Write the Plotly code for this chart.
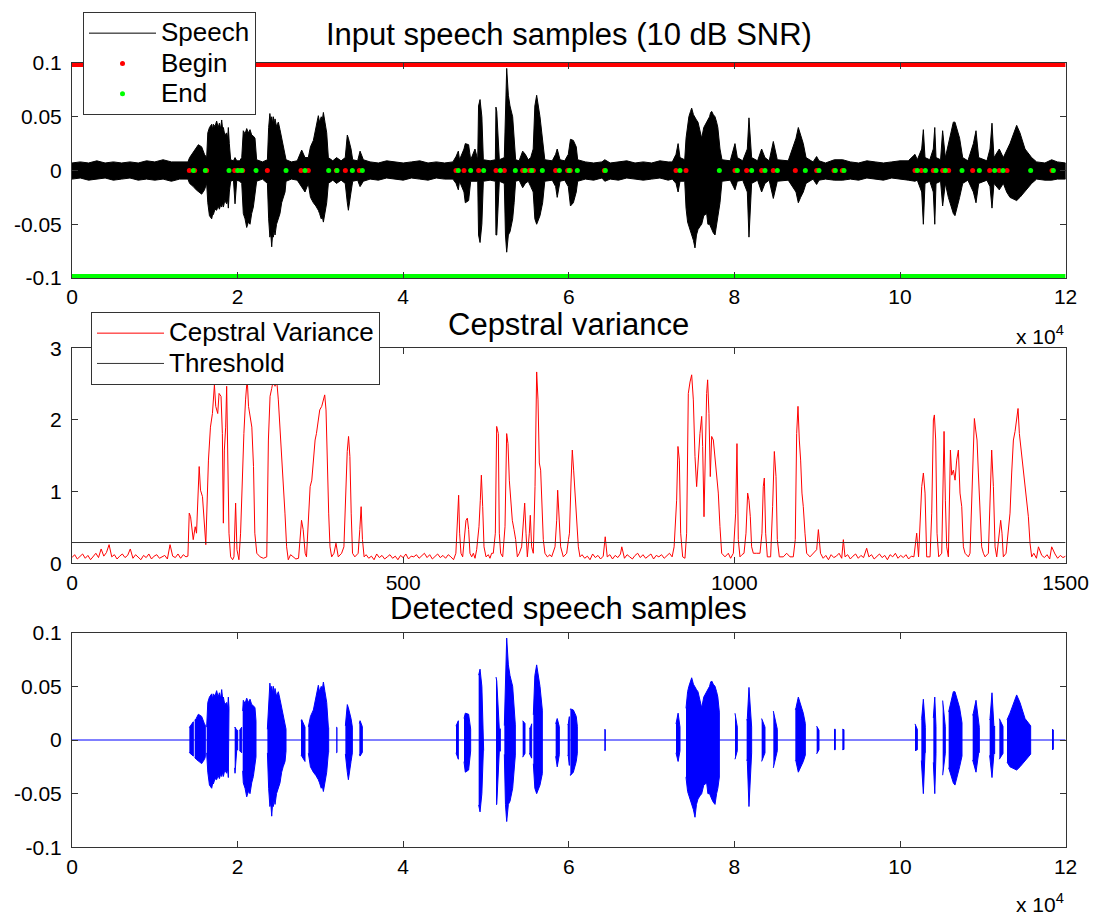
import numpy as np
import plotly.graph_objects as go

FONT = "Liberation Sans, Arial, Helvetica, sans-serif"
W, H = 1095, 917

# ---------------- Input speech: amplitude envelope ----------------
wave_x = [
    0, 1000, 2000, 3000, 4000, 5000, 6000, 7000, 8000, 9000, 10000, 11000, 12000, 13000,
    14000, 14200, 14650, 15000, 15260, 15660, 16000,
    16265, 16400, 16600, 16870, 17000, 17070, 17270, 17470, 17650, 17800,
    17950, 18080, 18200, 18280, 18450, 18680, 18800, 18880, 19000, 19160,
    19500, 19690, 19900, 20250,
    20500, 20690, 20900, 21100, 21300, 21500, 21700, 21900, 22100, 22300,
    23000,
    23600, 23750, 23900, 24000, 24120, 24220, 24320, 24420, 24520, 24700,
    24920, 25120, 25320, 25500, 25730, 25850,
    26500, 27200, 27740, 28140,
    28540, 28800, 29150, 29450, 29750, 29900, 30100, 30230, 30360, 30550, 30760, 30960,
    31500, 31950, 32500, 33000, 33250, 33380, 33700, 33900, 34500, 34790,
    35190, 36000, 37000, 38000, 39000, 40000, 41000, 42000, 43000, 44000, 45000,
    46000, 46380, 46660, 46800, 47340, 47500, 47900, 48150, 48670, 49000,
    49100, 49280, 49500, 49680, 50500, 51130, 51200, 51300, 51610, 52210,
    52350, 52500, 52700, 52900, 53220, 53400, 53580, 54000, 54430, 54750,
    55100, 55400, 55700, 55900, 56120, 56520, 56840, 57100, 58000, 58410,
    58600, 58940, 59500, 59940, 60200, 60550, 60900, 61070, 62000, 63000,
    64000, 64350, 65000, 66000, 67000, 68000, 69000, 70000, 71000, 72000,
    72500, 72950, 73200, 73430, 74000, 74160,
    74350, 74500, 74700, 74840, 75050, 75240, 75420, 75600, 75850, 76050,
    76300, 76650, 76800, 77000, 77130, 77260, 77450, 77660, 77850, 78000, 78260,
    78500, 79500, 80070,
    80350, 81000, 81560, 81760, 82080, 82800, 83290, 83690, 84200, 84700,
    85180, 86500, 87440, 87720, 88000, 88320, 88650, 89500, 89930, 90220,
    91000, 92070, 93080, 94000, 95000, 96000, 97000, 98000, 99000, 100000,
    101000, 101810, 102090, 102620, 102820, 103020, 103600, 104020, 104200, 104350,
    104900, 105150, 105480, 105840, 106440, 106640, 106840, 107200, 107570, 108200,
    108860, 109180, 109500, 110500, 110870, 111110, 111350, 111990, 112480, 112880,
    113280, 114090, 114490, 115100, 115900, 116500, 117500, 118320, 119000, 120000,
]
wave_hi = [
    .007, .008, .007, .009, .007, .008, .007, .008, .007, .009, .008, .010, .008, .008,
    .008, .012, .017, .020, .024, .022, .015,
    .012, .035, .040, .043, .038, .043, .041, .046, .040, .044,
    .039, .047, .038, .040, .033, .035, .030, .040, .025, .010,
    .009, .012, .009, .009,
    .012, .037, .034, .039, .035, .038, .033, .032, .030, .010,
    .008,
    .010, .040, .053, .046, .050, .044, .050, .043, .048, .041,
    .045, .038, .031, .022, .015, .010,
    .008, .009, .019, .012,
    .012, .022, .028, .040, .051, .045, .050, .047, .054, .045, .035, .012,
    .009, .012, .009, .012, .033, .030, .020, .010, .009, .018,
    .010, .008, .007, .009, .008, .007, .008, .009, .007, .008, .007,
    .008, .013, .018, .010, .020, .025, .024, .010, .020, .010,
    .060, .066, .050, .010, .009, .010, .059, .055, .010, .012,
    .060, .095, .070, .060, .050, .030, .010, .009, .018, .015,
    .010, .012, .020, .060, .070, .050, .025, .010, .009, .015,
    .020, .010, .009, .015, .029, .028, .022, .010, .008, .007,
    .008, .010, .007, .008, .009, .007, .008, .007, .009, .008,
    .008, .015, .025, .012, .010, .030,
    .045, .050, .055, .058, .052, .050, .047, .045, .038, .030,
    .040, .045, .048, .050, .054, .055, .052, .050, .045, .040, .020,
    .010, .009, .025,
    .012, .009, .020, .049, .012, .009, .020, .012, .009, .027,
    .010, .009, .030, .040, .033, .025, .012, .008, .013, .009,
    .007, .010, .010, .008, .007, .009, .008, .007, .008, .009,
    .009, .015, .010, .020, .038, .012, .010, .020, .040, .012,
    .010, .037, .012, .025, .045, .045, .040, .030, .012, .009,
    .025, .037, .012, .009, .020, .044, .012, .020, .012, .018,
    .025, .042, .035, .020, .012, .008, .007, .010, .008, .007,
]
wave_lo = [
    -.008, -.007, -.009, -.008, -.007, -.009, -.008, -.007, -.009, -.008, -.009, -.008, -.010, -.008,
    -.008, -.012, -.015, -.018, -.020, -.022, -.018,
    -.012, -.030, -.042, -.045, -.040, -.041, -.036, -.037, -.033, -.036,
    -.032, -.034, -.030, -.034, -.028, -.031, -.027, -.035, -.020, -.010,
    -.009, -.031, -.009, -.010,
    -.012, -.040, -.045, -.053, -.048, -.050, -.040, -.034, -.025, -.010,
    -.008,
    -.012, -.045, -.062, -.058, -.071, -.060, -.062, -.055, -.060, -.050,
    -.045, -.040, -.030, -.025, -.020, -.010,
    -.008, -.009, -.015, -.020,
    -.012, -.025, -.030, -.033, -.037, -.040, -.045, -.043, -.048, -.038, -.030, -.012,
    -.009, -.012, -.009, -.012, -.030, -.037, -.020, -.010, -.009, -.015,
    -.010, -.008, -.009, -.007, -.008, -.009, -.007, -.008, -.009, -.007, -.008,
    -.008, -.012, -.018, -.010, -.020, -.030, -.028, -.010, -.010, -.010,
    -.060, -.067, -.050, -.010, -.009, -.010, -.060, -.060, -.010, -.012,
    -.060, -.076, -.060, -.057, -.045, -.030, -.010, -.009, -.016, -.012,
    -.010, -.015, -.020, -.045, -.050, -.042, -.030, -.010, -.009, -.015,
    -.025, -.010, -.009, -.015, -.033, -.030, -.020, -.010, -.008, -.009,
    -.007, -.010, -.008, -.009, -.007, -.008, -.009, -.008, -.007, -.009,
    -.008, -.012, -.020, -.010, -.010, -.035,
    -.048, -.050, -.055, -.060, -.065, -.072, -.060, -.055, -.052, -.050,
    -.042, -.040, -.050, -.050, -.052, -.055, -.058, -.060, -.050, -.045, -.030,
    -.010, -.009, -.018,
    -.010, -.009, -.020, -.062, -.012, -.009, -.020, -.012, -.009, -.026,
    -.010, -.009, -.020, -.030, -.025, -.020, -.012, -.008, -.013, -.009,
    -.008, -.009, -.009, -.008, -.009, -.007, -.008, -.009, -.007, -.008,
    -.009, -.010, -.009, -.020, -.050, -.012, -.010, -.020, -.050, -.012,
    -.010, -.033, -.012, -.025, -.040, -.042, -.035, -.025, -.012, -.009,
    -.020, -.030, -.012, -.009, -.015, -.035, -.012, -.018, -.012, -.020,
    -.025, -.028, -.025, -.020, -.012, -.008, -.009, -.009, -.008, -.008,
]
assert len(wave_x) == len(wave_hi) == len(wave_lo)
assert all(a < b for a, b in zip(wave_x, wave_x[1:]))

# ---------------- Detected speech segments (sample index) ----------------
seg_begin = [14172, 14816, 16265, 19647, 20211, 20614, 23593, 27660, 28545, 31926, 33014, 34704,
             46376, 47343, 49114, 51208, 52214, 54428, 55234, 55717, 58414, 59864, 60186, 64292,
             72948, 74156, 80071, 81480, 83291, 84701, 87358, 89934, 92028, 93034,
             101811, 102576, 104025, 105153, 105877, 108776, 110829, 111997, 112923, 118358]
seg_end = [14655, 16104, 18963, 20010, 20493, 22224, 25848, 28142, 31000, 32006, 33860, 35067,
           46658, 48148, 49718, 51732, 53543, 54710, 55516, 56804, 58857, 60066, 61031, 64413,
           73431, 78182, 80353, 82083, 83694, 85184, 88566, 90216, 92189, 93236,
           102093, 103059, 104347, 105475, 107488, 109581, 111433, 112440, 115782, 118519]

n_samples = 120000
begin_level = 0.1
end_level = -0.1

# ---------------- Cepstral variance (frame index, value) ----------------
cep_frame = [
    0, 4, 8, 12, 16, 20, 24, 28, 32, 36,
    40, 44, 48, 52, 56, 60, 64, 68, 72, 76,
    80, 84, 88, 92, 96, 100, 104, 108, 112, 116,
    120, 124, 128, 132, 136, 140, 144, 148, 152, 156,
    160, 164, 168, 172, 175,
    177, 179, 183, 186, 188, 192, 194, 197, 199, 202,
    206, 209, 212, 215, 217, 220, 222, 225, 227, 228.5,
    230, 232, 233.5, 235, 237, 239.5, 242.5, 244.5, 247, 249,
    252, 254.5, 257, 259.5, 262, 264.5, 266.5, 269, 271.5, 274,
    276, 279, 284, 289, 294, 296.5, 299, 301.5, 304, 306.5,
    309, 311.5, 314, 316.5, 319, 321.5, 324, 326.5, 330, 334,
    338, 342, 346.5, 349, 352, 354, 357, 359.5, 362, 364,
    367, 369, 372, 374, 377, 379, 381.5, 383.5, 385.5, 387.5,
    389.5, 392, 395.5, 398.5, 402, 407, 410.5, 413, 415.5, 417.5,
    419.5, 421.5, 423.5, 427, 432, 434.5, 436.5, 438.5, 441,
    444, 448, 452, 456, 460, 464, 468, 472, 476, 480,
    484, 488, 492, 496, 500, 504, 508, 512, 516, 520,
    524, 528, 532, 536, 540, 544, 548, 552, 556, 560,
    564, 568, 572, 576, 579.5,
    582, 583.7, 585.2, 587.2, 589.8, 592.3, 594.8, 596.8, 598.8, 600.8,
    603.4, 605.9, 608.4, 610.9, 614.4, 616.4, 618, 620, 622, 625,
    628.5, 631, 633.5, 636, 639.1, 641.1, 643.6, 645.1, 647.1, 650.2,
    653.7, 656.2, 658.2, 660.2, 662.7, 664.7, 667.3, 669.8, 672.3, 675.3,
    678.8, 681.3, 683.4, 685.4, 687.4, 690.4, 691.9, 693.9, 696.4, 699,
    701.5, 703.5, 705.5, 707.5, 709.5, 711.5, 714, 717.6, 721.6, 724.1,
    729.2, 731.7, 733.2, 735.2, 737.7, 741.7, 746.8, 749.5, 751, 753.3,
    755.3, 757.3, 759.3, 761.9, 764.4, 766.9,
    770, 774, 778, 782, 786, 790, 794, 798, 802, 805,
    808, 812, 816, 820, 824, 828, 830, 834, 838, 842,
    846, 850, 854, 858, 862, 866, 870, 874, 878, 882,
    886, 890, 894, 898, 902, 906, 909,
    912.8, 914.8, 916.9, 918.9, 921.9, 925.4, 927.9, 930.4, 933, 935.5,
    938, 940.5, 943, 945.5, 948, 950.6, 952.1, 954.1, 956.1, 958.1,
    959.6, 961.6, 963.6, 965.7, 968.2, 970.7, 973.2, 975.7, 978.2, 980.8,
    985.8, 990.8, 994.3, 998.4, 1001.9, 1003.9, 1005.9, 1008.4, 1011.4, 1014.5,
    1017.5, 1020, 1022, 1024, 1026, 1028.6, 1033.6, 1038.6, 1041.6, 1043.6,
    1045.2, 1047.2, 1049.7, 1054.7, 1057.7, 1060.3, 1062.8, 1064.8, 1067.8, 1073.8,
    1078.9, 1083.9, 1088.9, 1091.9, 1094, 1096, 1098, 1100, 1102, 1104,
    1106.6, 1109.1, 1114.1, 1119.1, 1124.2, 1126.8,
    1130, 1134, 1138, 1142, 1146, 1150, 1154, 1158, 1162, 1164.5,
    1167, 1171, 1175, 1179, 1183, 1187, 1191, 1195, 1199.7, 1203,
    1207, 1211, 1215, 1219, 1223, 1227, 1231, 1235, 1239, 1243,
    1247, 1251, 1255, 1259, 1263, 1267, 1271, 1275.2, 1278,
    1282.8, 1285.3, 1287.8, 1290.3, 1295.4, 1297.9, 1300.4, 1301.9, 1303.9, 1305.9,
    1308.4, 1313, 1314.5, 1316.5, 1318.5, 1320.5, 1323, 1324.5, 1326.1, 1328.1,
    1330.6, 1333.1, 1335.6, 1338.1, 1340.6, 1343.2, 1345.7, 1348.2, 1353.2, 1355.7,
    1359.8, 1362.3, 1364.3, 1366.3, 1368.3, 1370.8, 1373.3, 1375.9, 1378.4, 1383.4,
    1385.9, 1388.4, 1391, 1393.5, 1396, 1400, 1402, 1404, 1406, 1410.1,
    1413.6, 1416.1, 1418.6, 1421.2, 1423.7, 1426.2, 1428.2, 1430.2, 1432.2, 1434.2,
    1436.2, 1438.8, 1441.3, 1443.8, 1446.3, 1448.8,
    1452, 1456, 1459, 1464, 1468, 1472, 1476, 1479, 1484, 1488,
    1492, 1496, 1500,
]
cep_value = [
    .08, .12, .06, .10, .13, .07, .11, .05, .09, .14,
    .08, .20, .10, .15, .26, .09, .12, .06, .10, .13,
    .08, .11, .20, .07, .12, .09, .05, .11, .08, .13,
    .06, .10, .12, .07, .09, .11, .06, .26, .10, .08,
    .13, .07, .12, .09, .10,
    .70, .65, .33, .51, .42, 1.35, 1.02, .93, .70, .26,
    1.44, 1.90, 2.09, 2.49, 2.19, 2.09, 2.37, 2.33, 1.81, .56,
    1.58, 1.90, 2.47, 1.58, .42, .09, .05, .09, .84, .19,
    .05, .42, 1.26, 1.81, 2.28, 2.58, 2.19, 2.05, 1.90, 1.35,
    .42, .14, .09, .07, .09, 1.72, 2.33, 2.44, 2.56, 2.47,
    2.56, 2.28, 1.90, 1.58, 1.07, .70, .23, .05, .12, .09,
    .06, .07, .60, .47, .14, .09, .60, 1.07, 1.16, 1.44,
    1.72, 1.81, 2.00, 2.14, 2.19, 2.28, 2.35, 2.14, 1.35, .70,
    .23, .09, .14, .28, .09, .14, .23, 1.07, 1.56, 1.77,
    1.49, .70, .14, .09, .14, .47, .79, .33, .09,
    .12, .07, .10, .05, .13, .08, .11, .06, .09, .12,
    .07, .10, .05, .11, .08, .13, .06, .10, .09, .12,
    .07, .11, .14, .08, .12, .06, .10, .13, .08, .11,
    .07, .12, .09, .05, .14,
    .70, .95, .42, .14, .09, .33, .60, .63, .47, .14,
    .09, .14, .07, .19, .51, .88, 1.23, .79, .23, .09,
    .12, .07, .14, .14, .42, 1.91, 1.81, .42, .14, .09,
    .51, 1.81, 1.67, 1.16, .88, .60, .47, .33, .09, .14,
    .23, .60, .84, .42, .09, .42, .67, .23, .14, 1.07,
    2.67, 2.28, 1.40, 1.30, .70, .33, .14, .09, .12, .09,
    .23, .60, 1.02, .65, .23, .09, .14, .33, .42, 1.12,
    1.58, 1.30, .98, .51, .23, .09,
    .12, .07, .10, .05, .13, .08, .11, .06, .10, .37,
    .09, .12, .06, .11, .08, .13, .23, .07, .12, .09,
    .06, .11, .14, .08, .12, .07, .10, .13, .06, .11,
    .09, .12, .07, .10, .14, .09, .23,
    .88, 1.63, 1.44, .42, .09, .07, .42, 2.37, 2.53, 2.63,
    2.28, 1.49, 1.07, 1.49, 1.81, 2.05, 1.63, .65, 1.58, 2.37,
    2.56, 2.09, 1.21, 1.77, 1.72, 1.44, 1.26, .98, .51, .14,
    .09, .14, .07, .14, .70, 1.67, .33, .09, .12, .14,
    .42, .98, .88, .65, .23, .14, .14, .14, .42, 1.07,
    1.19, .42, .09, .09, .79, 1.56, 1.21, .33, .09, .09,
    .14, .09, .09, .33, 1.81, 2.19, 1.72, 1.44, .98, .79,
    .42, .14, .09, .14, .19, .47,
    .14, .07, .11, .05, .12, .08, .10, .14, .07, .33,
    .09, .12, .06, .10, .13, .07, .11, .08, .21, .09,
    .12, .06, .10, .13, .08, .11, .05, .12, .09, .14,
    .07, .11, .08, .12, .06, .10, .09, .42, .09,
    1.07, 1.26, .98, .09, .09, .70, 2.00, 2.07, 1.72, .42,
    .09, .14, .88, 1.84, .88, .23, .09, .65, 1.58, 1.23,
    1.30, 1.16, 1.44, 1.58, .98, .79, .23, .14, .09, .14,
    1.35, 2.02, 1.86, 1.72, 1.26, .70, .23, .14, .09, .14,
    .79, 1.58, 1.07, .23, .09, .42, .60, .42, .09, .14,
    .42, .70, 1.26, 1.72, 1.84, 2.00, 2.16, 1.81, 1.63, 1.49,
    1.26, 1.07, .84, .65, .28, .09,
    .14, .07, .23, .11, .08, .12, .06, .23, .13, .07,
    .11, .08, .10,
]
assert len(cep_frame) == len(cep_value)
n_frames = 1500
threshold = 0.29

# ---------------- tick labels ----------------
sample_ticks = [0, 20000, 40000, 60000, 80000, 100000, 120000]
sample_ticktext = ["0", "2", "4", "6", "8", "10", "12"]
amp_ticks = [-0.1, -0.05, 0, 0.05, 0.1]
amp_ticktext = ["-0.1", "-0.05", "0", "0.05", "0.1"]
frame_ticks = [0, 500, 1000, 1500]
cep_ticks = [0, 1, 2, 3]

titles = ["Input speech samples (10 dB SNR)", "Cepstral variance", "Detected speech samples"]

# ---------------- geometry helpers (pixel -> paper) ----------------
def pxx(p):
    return p / W

def pxy(p):
    return 1 - p / H

XD = [pxx(72), pxx(1065.6)]
Y1 = [pxy(278), pxy(63)]
Y2 = [pxy(563.3), pxy(348.3)]
Y3 = [pxy(847.3), pxy(632.7)]
XC = (XD[0] + XD[1]) / 2

def leg_name(s):
    return '<span style="font-size:26px">' + s + '</span>'

fig = go.Figure()

wx = np.array(wave_x, dtype=float)
whi = np.array(wave_hi, dtype=float)
wlo = np.array(wave_lo, dtype=float)

# --- top: input speech (envelope polygon) ---
fig.add_trace(go.Scatter(
    x=np.concatenate([wx, wx[::-1]]), y=np.concatenate([whi, wlo[::-1]]),
    mode="lines", fill="toself", fillcolor="black",
    line=dict(color="black", width=1), showlegend=False, hoverinfo="skip",
    xaxis="x", yaxis="y"))
fig.add_trace(go.Scatter(x=[None], y=[None], mode="lines", name=leg_name("Speech"),
                         line=dict(color="black", width=1), xaxis="x", yaxis="y", legend="legend"))
fig.add_trace(go.Scatter(x=[0, n_samples], y=[begin_level, begin_level], mode="lines",
                         line=dict(color="#ff0000", width=8), showlegend=False, hoverinfo="skip",
                         xaxis="x", yaxis="y"))
fig.add_trace(go.Scatter(x=[0, n_samples], y=[end_level, end_level], mode="lines",
                         line=dict(color="#00ff00", width=8), showlegend=False, hoverinfo="skip",
                         xaxis="x", yaxis="y"))
fig.add_trace(go.Scatter(x=seg_begin, y=[0] * len(seg_begin), mode="markers", name=leg_name("Begin"),
                         marker=dict(color="#ff0000", size=5), cliponaxis=False,
                         xaxis="x", yaxis="y", legend="legend"))
fig.add_trace(go.Scatter(x=seg_end, y=[0] * len(seg_end), mode="markers", name=leg_name("End"),
                         marker=dict(color="#00ff00", size=5), cliponaxis=False,
                         xaxis="x", yaxis="y", legend="legend"))

# --- middle: cepstral variance ---
fig.add_trace(go.Scatter(x=cep_frame, y=cep_value, mode="lines", name=leg_name("Cepstral Variance"),
                         line=dict(color="#ff0000", width=1), xaxis="x2", yaxis="y2", legend="legend2"))
fig.add_trace(go.Scatter(x=[0, n_frames], y=[threshold, threshold], mode="lines",
                         name=leg_name("Threshold"),
                         line=dict(color="#333333", width=1), xaxis="x2", yaxis="y2", legend="legend2"))

# --- bottom: detected speech (envelope restricted to the detected segments) ---
dx, dy = [], []
for b, e in zip(seg_begin, seg_end):
    inner = wx[(wx > b) & (wx < e)]
    xs = np.concatenate([[b], inner, [e]])
    hi = np.interp(xs, wx, whi)
    lo = np.interp(xs, wx, wlo)
    dx += list(xs) + list(xs[::-1]) + [None]
    dy += list(hi) + list(lo[::-1]) + [None]
fig.add_trace(go.Scatter(x=[0, n_samples], y=[0, 0], mode="lines",
                         line=dict(color="#0000ff", width=1), showlegend=False,
                         xaxis="x3", yaxis="y3"))
fig.add_trace(go.Scatter(x=dx, y=dy, mode="lines", fill="toself", fillcolor="#0000ff",
                         line=dict(color="#0000ff", width=1), showlegend=False, hoverinfo="skip",
                         xaxis="x3", yaxis="y3"))

axc = dict(showline=True, linecolor="#333333", linewidth=1, mirror="ticks", ticks="inside",
           ticklen=6, tickcolor="#333333", tickwidth=1, showgrid=False, zeroline=False,
           tickfont=dict(family=FONT, size=21, color="black"), fixedrange=True, automargin=False)

fig.update_layout(
    template="none",
    width=W, height=H, margin=dict(l=0, r=0, t=0, b=0, pad=0, autoexpand=False),
    paper_bgcolor="white", plot_bgcolor="white",
    font=dict(family=FONT, color="black"),
    xaxis=dict(axc, domain=XD, range=[0, n_samples], tickvals=sample_ticks, ticktext=sample_ticktext,
               anchor="y", ticklabelstandoff=0),
    yaxis=dict(axc, domain=Y1, range=[-0.1, 0.1], tickvals=amp_ticks, ticktext=amp_ticktext,
               anchor="x", ticklabelstandoff=5),
    xaxis2=dict(axc, domain=XD, range=[0, n_frames], tickvals=frame_ticks, anchor="y2",
                ticklabelstandoff=0),
    yaxis2=dict(axc, domain=Y2, range=[0, 3], tickvals=cep_ticks, anchor="x2", ticklabelstandoff=5),
    xaxis3=dict(axc, domain=XD, range=[0, n_samples], tickvals=sample_ticks, ticktext=sample_ticktext,
                anchor="y3", ticklabelstandoff=0),
    yaxis3=dict(axc, domain=Y3, range=[-0.1, 0.1], tickvals=amp_ticks, ticktext=amp_ticktext,
                anchor="x3", ticklabelstandoff=5),
    legend=dict(x=pxx(83), y=pxy(12), xanchor="left", yanchor="top", bgcolor="white",
                bordercolor="#333333", borderwidth=1, font=dict(family=FONT, size=21, color="black"),
                tracegroupgap=0, itemwidth=67),
    legend2=dict(x=pxx(91), y=pxy(312), xanchor="left", yanchor="top", bgcolor="white",
                 bordercolor="#333333", borderwidth=1, font=dict(family=FONT, size=21, color="black"),
                 tracegroupgap=0, itemwidth=67),
    annotations=[
        dict(text=titles[0], x=XC, y=pxy(35), xref="paper", yref="paper", showarrow=False,
             xanchor="center", yanchor="middle", font=dict(family=FONT, size=31, color="black")),
        dict(text=titles[1], x=XC, y=pxy(324), xref="paper", yref="paper", showarrow=False,
             xanchor="center", yanchor="middle", font=dict(family=FONT, size=31, color="black")),
        dict(text=titles[2], x=XC, y=pxy(608), xref="paper", yref="paper", showarrow=False,
             xanchor="center", yanchor="middle", font=dict(family=FONT, size=31, color="black")),
        dict(text="x 10<sup>4</sup>", x=pxx(1066), y=pxy(335), xref="paper", yref="paper",
             showarrow=False, xanchor="right", yanchor="middle",
             font=dict(family=FONT, size=21, color="black")),
        dict(text="x 10<sup>4</sup>", x=pxx(1066), y=pxy(903), xref="paper", yref="paper",
             showarrow=False, xanchor="right", yanchor="middle",
             font=dict(family=FONT, size=21, color="black")),
    ],
)

fig.write_html("out.html")
